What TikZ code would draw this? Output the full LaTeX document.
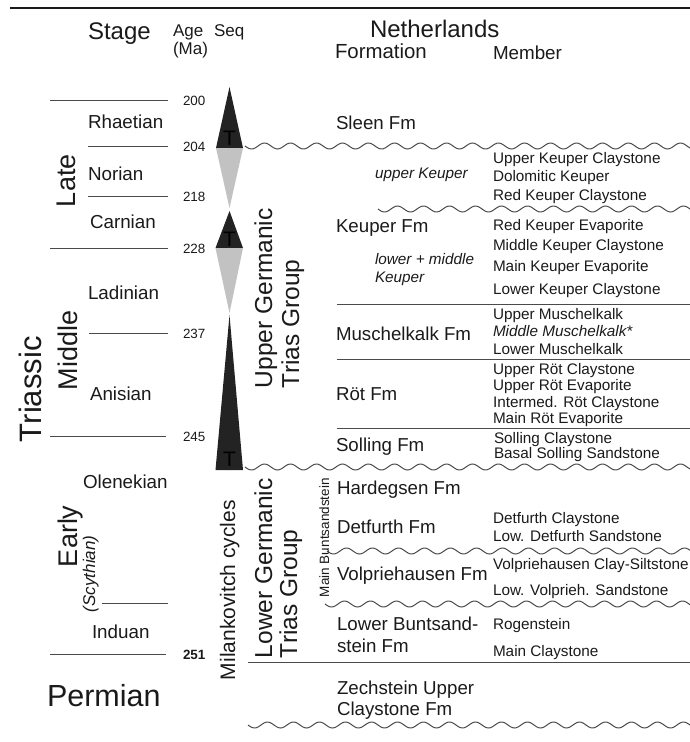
\documentclass[tikz,border=0pt]{standalone}
\usepackage{fontspec}
\setmainfont{Liberation Sans}
\definecolor{txtc}{HTML}{1A1A1A}
\definecolor{linec}{HTML}{4A4A4A}
\definecolor{darktri}{HTML}{232323}
\definecolor{greytri}{HTML}{C2C2C2}
\begin{document}
\begin{tikzpicture}[x=1pt,y=-1pt,
  txt/.style={inner sep=0pt, outer sep=0pt, text=txtc, anchor=base west},
  hdr/.style={txt, font=\fontsize{24}{26}\selectfont},
  sub/.style={txt, font=\fontsize{17}{19}\selectfont},
  stg/.style={txt, font=\fontsize{18.8}{20}\selectfont},
  agel/.style={txt, font=\fontsize{13.4}{15}\selectfont},
  fm/.style={txt, font=\fontsize{18.7}{21}\selectfont},
  mb/.style={txt, font=\fontsize{15.3}{17}\selectfont},
  mbi/.style={txt, font=\fontsize{15.3}{17}\selectfont\itshape},
  rot/.style={txt, rotate=90},
  tmark/.style={txt, anchor=center, text=black, font=\fontsize{21}{21}\selectfont},
  sline/.style={draw=linec, line width=1pt},
  wline/.style={draw=linec, line width=1pt},
  dtri/.style={fill=darktri, draw=none},
  gtri/.style={fill=greytri, draw=none},
]
\useasboundingbox (0,0) rectangle (690,742);

% top rule
\draw[draw=txtc, line width=1.5pt] (10,8) -- (690,8);

% header
\node[hdr] (hStage) at (88,39) {Stage};
\node[sub] (hAge) at (173,36) {Age};
\node[sub] (hMa) at (173,54) {(Ma)};
\node[sub] (hSeq) at (214,36) {Seq};
\node[hdr] (hNL) at (370,37) {Netherlands};
\node[txt, font=\fontsize{20.4}{22}\selectfont] (hFm) at (335,58) {Formation};
\node[txt, font=\fontsize{18.8}{20}\selectfont] (hMb) at (493,59) {Member};

% stage boundary lines
\draw[sline] (50,100) -- (168,100);
\draw[sline] (88,146) -- (168,146);
\draw[sline] (88,196) -- (168,196);
\draw[sline] (50,248) -- (168,248);
\draw[sline] (89,333) -- (168,333);
\draw[sline] (50,436) -- (166,436);
\draw[sline] (102,603) -- (168,603);
\draw[sline] (50,654) -- (166,654);

% ages
\node[agel] (a200) at (183,105) {200};
\node[agel] (a204) at (183,151) {204};
\node[agel] (a218) at (183,201) {218};
\node[agel] (a228) at (183,253) {228};
\node[agel] (a237) at (183,338) {237};
\node[agel] (a245) at (183,441) {245};
\node[agel, font=\fontsize{13.4}{15}\selectfont\bfseries] (a251) at (183,659) {251};

% stages
\node[stg] (sRh) at (88,128) {Rhaetian};
\node[stg] (sNo) at (88,180) {Norian};
\node[stg] (sCa) at (90,228) {Carnian};
\node[stg] (sLa) at (88,299) {Ladinian};
\node[stg] (sAn) at (90,400) {Anisian};
\node[stg] (sOl) at (83,488) {Olenekian};
\node[stg] (sIn) at (92,638) {Induan};
\node[txt, font=\fontsize{30.5}{32}\selectfont] (sPe) at (47,706) {Permian};

% rotated epochs
\node[rot, font=\fontsize{31}{33}\selectfont] (eTr) at (41,442) {Triassic};
\node[rot, font=\fontsize{27}{29}\selectfont] (eLa) at (75,207) {Late};
\node[rot, font=\fontsize{27}{29}\selectfont] (eMi) at (77,390) {Middle};
\node[rot, font=\fontsize{27}{29}\selectfont] (eEa) at (77,567) {Early};
\node[rot, font=\fontsize{17}{19}\selectfont\itshape] (eSc) at (95,612) {(Scythian)};

% sequence triangles
\fill[dtri] (229.5,87) -- (243,148) -- (216,148) -- cycle;
\fill[gtri] (216,148) -- (243,148) -- (229.5,208) -- cycle;
\fill[dtri] (229.5,211) -- (243,248) -- (215.5,248) -- cycle;
\fill[gtri] (215.5,248) -- (243,248) -- (229.5,313) -- cycle;
\fill[dtri] (229.5,315) -- (243,470) -- (215.5,470) -- cycle;
\node[tmark] (t1) at (229.5,138) {T};
\node[tmark] (t2) at (229.5,239) {T};
\node[tmark] (t3) at (229.5,459) {T};

% group labels
\node[rot, font=\fontsize{24.5}{26}\selectfont] (gU1) at (272,388) {Upper Germanic};
\node[rot, font=\fontsize{24.5}{26}\selectfont] (gU2) at (299,388) {Trias Group};
\node[rot, font=\fontsize{24.5}{26}\selectfont] (gL1) at (272,658) {Lower Germanic};
\node[rot, font=\fontsize{24.5}{26}\selectfont] (gL2) at (297,658) {Trias Group};
\node[rot, font=\fontsize{21}{23}\selectfont] (gMi) at (235,680) {Milankovitch cycles};
\node[rot, font=\fontsize{13.5}{15}\selectfont] (gMB) at (329,597) {Main Buntsandstein};

% wavy unconformities
\draw[wline] plot[domain=245:690,samples=220,smooth] (\x,{146+3*sin((\x-245)/26*360)});
\draw[wline] plot[domain=378:690,samples=160,smooth] (\x,{209+3*sin((\x-378)/26*360)});
\draw[wline] plot[domain=245:690,samples=220,smooth] (\x,{467+3*sin((\x-245)/26*360)});
\draw[wline] plot[domain=327:690,samples=180,smooth] (\x,{551+3*sin((\x-327)/26*360)});
\draw[wline] plot[domain=325:690,samples=180,smooth] (\x,{604+3*sin((\x-325)/26*360)});
\draw[wline] plot[domain=248:690,samples=220,smooth] (\x,{725+3*sin((\x-248)/26*360)});

% straight formation boundaries
\draw[sline] (337,304) -- (690,304);
\draw[sline] (337,359) -- (690,359);
\draw[sline] (337,428) -- (690,428);
\draw[sline] (248,662) -- (690,662);

% formations
\node[fm] (fSl) at (336,129) {Sleen Fm};
\node[fm] (fKe) at (336,232) {Keuper Fm};
\node[fm] (fMu) at (336,340) {Muschelkalk Fm};
\node[fm] (fRo) at (336,400) {Röt Fm};
\node[fm] (fSo) at (336,451) {Solling Fm};
\node[fm] (fHa) at (337,494) {Hardegsen Fm};
\node[fm] (fDe) at (337,533) {Detfurth Fm};
\node[fm] (fVo) at (337,580) {Volpriehausen Fm};
\node[fm] (fLB1) at (337,630) {Lower Buntsand-};
\node[fm] (fLB2) at (337,652) {stein Fm};
\node[fm] (fZe1) at (337,694) {Zechstein Upper};
\node[fm] (fZe2) at (337,715) {Claystone Fm};

% italic subdivisions
\node[mbi] (iUK) at (375,178.5) {upper Keuper};
\node[mbi] (iLM1) at (375,264.5) {lower + middle};
\node[mbi] (iLM2) at (375,282.5) {Keuper};

% members
\node[mb] (m1) at (493,163.5) {Upper Keuper Claystone};
\node[mb] (m2) at (493,181.5) {Dolomitic Keuper};
\node[mb] (m3) at (493,200.5) {Red Keuper Claystone};
\node[mb] (m4) at (493,230.5) {Red Keuper Evaporite};
\node[mb] (m5) at (493,250.5) {Middle Keuper Claystone};
\node[mb] (m6) at (493,271.5) {Main Keuper Evaporite};
\node[mb] (m7) at (493,294.5) {Lower Keuper Claystone};
\node[mb] (m8) at (493,319.5) {Upper Muschelkalk};
\node[mbi] (m9) at (493,336.5) {Middle Muschelkalk*};
\node[mb] (m10) at (493,354.5) {Lower Muschelkalk};
\node[mb] (m11) at (493,374.5) {Upper Röt Claystone};
\node[mb] (m12) at (493,390.5) {Upper Röt Evaporite};
\node[mb] (m13) at (493,407.5) {Intermed. Röt Claystone};
\node[mb] (m14) at (493,423.5) {Main Röt Evaporite};
\node[mb] (m15) at (494,443.5) {Solling Claystone};
\node[mb] (m16) at (494,458.5) {Basal Solling Sandstone};
\node[mb] (m17) at (493,523.5) {Detfurth Claystone};
\node[mb] (m18) at (493,541.5) {Low. Detfurth Sandstone};
\node[mb] (m19) at (493,569.5) {Volpriehausen Clay-Siltstone};
\node[mb] (m20) at (493,595.5) {Low. Volprieh. Sandstone};
\node[mb] (m21) at (493,629.5) {Rogenstein};
\node[mb] (m22) at (493,656.5) {Main Claystone};
\end{tikzpicture}
\end{document}
